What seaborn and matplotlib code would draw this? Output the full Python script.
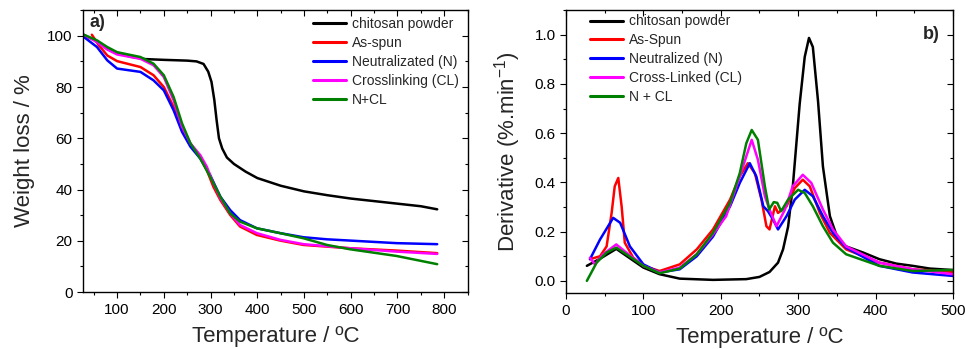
import matplotlib
matplotlib.use("Agg")
import matplotlib.pyplot as plt
import seaborn as sns
import numpy as np
import pandas as pd
from matplotlib.ticker import MultipleLocator

# ---------------- Panel a) TGA data ----------------
tga_labels = ["chitosan powder", "As-spun", "Neutralizated (N)", "Crosslinking (CL)", "N+CL"]
tga_chitosan_T = [30, 50, 80, 100, 130, 160, 200, 250, 270, 285, 295, 302, 308, 313, 318, 325, 335, 350, 375, 400, 450, 500, 550, 600, 650, 700, 750, 785]
tga_chitosan_W = [100, 98.5, 95, 93.2, 91.8, 90.9, 90.6, 90.3, 90.0, 89.0, 86.0, 82.0, 75.0, 67.0, 60.0, 56.0, 52.5, 50.0, 47.0, 44.5, 41.5, 39.3, 37.8, 36.5, 35.5, 34.5, 33.5, 32.3]
tga_asspun_T = [46, 60, 79, 100, 150, 178, 200, 221, 239, 253, 278, 292, 306, 321, 342, 363, 399, 449, 499, 599, 698, 785]
tga_asspun_W = [100.4, 96.5, 92.3, 90.1, 87.8, 84.6, 80.0, 72.2, 63.2, 58.6, 52.8, 47.6, 41.1, 35.9, 30.1, 25.6, 22.3, 20.1, 18.4, 17.1, 16.2, 15.2]
tga_neutral_T = [29, 57, 79, 100, 150, 178, 200, 221, 239, 257, 278, 299, 321, 342, 363, 399, 449, 499, 549, 599, 698, 785]
tga_neutral_W = [99.5, 95.6, 90.4, 87.2, 85.9, 82.6, 78.7, 70.9, 62.5, 56.7, 52.1, 45.7, 37.2, 32.0, 28.1, 24.9, 23.0, 21.4, 20.6, 20.1, 19.1, 18.7]
tga_cross_T = [29, 57, 79, 100, 150, 178, 200, 221, 239, 257, 278, 292, 306, 321, 342, 363, 399, 449, 499, 599, 698, 785]
tga_cross_W = [100.4, 97.5, 94.6, 92.7, 91.0, 88.5, 83.9, 74.8, 64.5, 58.0, 53.4, 48.9, 42.4, 36.6, 30.7, 26.2, 23.0, 20.4, 18.7, 17.1, 15.8, 14.9]
tga_ncl_T = [29, 57, 79, 100, 150, 178, 200, 221, 239, 257, 278, 299, 321, 342, 363, 399, 449, 499, 549, 599, 698, 785]
tga_ncl_W = [100.4, 98.2, 95.6, 93.6, 91.7, 89.1, 84.6, 76.1, 65.8, 58.0, 52.1, 45.0, 37.2, 30.7, 27.5, 24.9, 23.0, 21.0, 18.4, 16.7, 14.1, 10.9]

# ---------------- Panel b) DTG data ----------------
dtg_labels = ["chitosan powder", "As-Spun", "Neutralized (N)", "Cross-Linked (CL)", "N + CL"]
dtg_chitosan_T = [27, 44, 65, 100, 121, 147, 190, 233, 250, 263, 274, 280.5, 287, 293, 302, 308.5, 314, 319, 325.7, 332, 341, 351.5, 362, 384, 405, 427, 448, 470, 500]
dtg_chitosan_D = [0.061, 0.09, 0.13, 0.054, 0.027, 0.009, 0.004, 0.007, 0.016, 0.036, 0.074, 0.128, 0.22, 0.38, 0.72, 0.91, 0.987, 0.95, 0.73, 0.465, 0.263, 0.168, 0.14, 0.115, 0.088, 0.07, 0.061, 0.05, 0.044]
dtg_asspun_T = [31, 44, 52.5, 59, 63, 67.6, 72, 76, 87, 100, 121, 147, 169, 190, 212, 224.6, 235, 244, 252.6, 259, 263, 270, 274, 285, 295.6, 306, 315, 328, 341, 362, 405, 448, 500]
dtg_asspun_D = [0.088, 0.10, 0.14, 0.276, 0.384, 0.418, 0.30, 0.155, 0.094, 0.061, 0.04, 0.067, 0.128, 0.209, 0.33, 0.425, 0.478, 0.438, 0.33, 0.222, 0.209, 0.303, 0.276, 0.303, 0.377, 0.411, 0.384, 0.276, 0.195, 0.128, 0.074, 0.047, 0.036]
dtg_neutral_T = [31, 44, 61, 70, 82.6, 100, 121, 147, 169, 190, 212, 224.6, 237.5, 246, 255, 261, 267.6, 274, 285, 295.6, 308.5, 319, 332, 345, 362, 405, 448, 500]
dtg_neutral_D = [0.088, 0.168, 0.256, 0.236, 0.14, 0.067, 0.034, 0.047, 0.10, 0.18, 0.303, 0.398, 0.478, 0.424, 0.303, 0.283, 0.249, 0.209, 0.263, 0.33, 0.37, 0.344, 0.263, 0.195, 0.135, 0.061, 0.034, 0.02]
dtg_cross_T = [31, 37.4, 48, 65, 78, 100, 121, 147, 169, 190, 207, 224.6, 240, 248, 257, 263, 272, 283, 293, 306, 317, 332, 345, 362, 405, 448, 500]
dtg_cross_D = [0.094, 0.067, 0.108, 0.148, 0.115, 0.061, 0.034, 0.054, 0.108, 0.189, 0.263, 0.425, 0.573, 0.492, 0.344, 0.29, 0.222, 0.29, 0.384, 0.431, 0.398, 0.29, 0.209, 0.14, 0.074, 0.047, 0.027]
dtg_ncl_T = [27, 39.6, 52.5, 65, 78, 100, 121, 147, 169, 190, 212, 224.6, 233, 240, 248, 257, 262.5, 268.5, 273, 278, 287, 300, 308.5, 319, 332, 345, 362, 405, 448, 500]
dtg_ncl_D = [0.0, 0.074, 0.115, 0.135, 0.108, 0.061, 0.031, 0.05, 0.108, 0.195, 0.317, 0.438, 0.559, 0.613, 0.573, 0.384, 0.29, 0.32, 0.317, 0.283, 0.33, 0.37, 0.357, 0.303, 0.222, 0.155, 0.108, 0.061, 0.04, 0.044]

colors = ["#000000", "#ff0000", "#0000ff", "#ff00ff", "#008000"]

sns.set_theme(style="white")
plt.rcParams['font.family'] = ['Liberation Sans', 'DejaVu Sans']
plt.rcParams['mathtext.fontset'] = 'custom'
plt.rcParams['mathtext.rm'] = 'Liberation Sans'

fig = plt.figure(figsize=(9.65, 3.49), dpi=100)
ax1 = fig.add_axes([0.086, 0.163, 0.399, 0.808])
ax2 = fig.add_axes([0.5865, 0.160, 0.401, 0.811])

tga_sets = [(tga_chitosan_T, tga_chitosan_W), (tga_asspun_T, tga_asspun_W), (tga_neutral_T, tga_neutral_W),
            (tga_cross_T, tga_cross_W), (tga_ncl_T, tga_ncl_W)]
dtg_sets = [(dtg_chitosan_T, dtg_chitosan_D), (dtg_asspun_T, dtg_asspun_D), (dtg_neutral_T, dtg_neutral_D),
            (dtg_cross_T, dtg_cross_D), (dtg_ncl_T, dtg_ncl_D)]

for (t, w), lab, c in zip(tga_sets, tga_labels, colors):
    sns.lineplot(x=t, y=w, ax=ax1, color=c, label=lab, linewidth=1.8, sort=False)
for (t, d), lab, c in zip(dtg_sets, dtg_labels, colors):
    sns.lineplot(x=t, y=d, ax=ax2, color=c, label=lab, linewidth=1.8, sort=False)

ax1.set_xlim(27, 851)
ax1.set_ylim(0, 110)
ax1.xaxis.set_major_locator(MultipleLocator(100))
ax1.xaxis.set_minor_locator(MultipleLocator(50))
ax1.yaxis.set_major_locator(MultipleLocator(20))
ax1.yaxis.set_minor_locator(MultipleLocator(10))
ax1.set_xlabel("Temperature / ºC", fontsize=16, labelpad=7)
ax1.set_ylabel("Weight loss / %", fontsize=16, labelpad=9)

ax2.set_xlim(0, 500)
ax2.set_ylim(-0.05, 1.1)
ax2.xaxis.set_major_locator(MultipleLocator(100))
ax2.xaxis.set_minor_locator(MultipleLocator(50))
ax2.yaxis.set_major_locator(MultipleLocator(0.2))
ax2.yaxis.set_minor_locator(MultipleLocator(0.1))
ax2.set_yticks([0.0, 0.2, 0.4, 0.6, 0.8, 1.0])
ax2.set_yticklabels(["0.0", "0.2", "0.4", "0.6", "0.8", "1.0"])
ax2.set_xlabel("Temperature / ºC", fontsize=16, labelpad=7)
ax2.set_ylabel("Derivative (%.min$^{\\mathregular{-1}}$)", fontsize=16, labelpad=8)

for ax in (ax1, ax2):
    for sp in ax.spines.values():
        sp.set_visible(True)
        sp.set_color("black")
        sp.set_linewidth(1.0)
    ax.tick_params(axis="both", which="both", direction="out", colors="black", labelsize=11,
                   bottom=True, left=True, top=True, right=True, labeltop=False, labelright=False)
    ax.tick_params(which="major", length=4, width=0.8)
    ax.tick_params(which="minor", length=2.5, width=0.8)
    ax.grid(False)

# top/right ticks pointing inward
for ax in (ax1, ax2):
    for tk in ax.xaxis.get_major_ticks() + ax.xaxis.get_minor_ticks():
        tk.tick2line.set_marker(3)
    for tk in ax.yaxis.get_major_ticks() + ax.yaxis.get_minor_ticks():
        tk.tick2line.set_marker(0)

leg1 = ax1.legend(loc="upper left", bbox_to_anchor=(0.597, 0.975), frameon=False, fontsize=10,
                  handlelength=2.4, handletextpad=0.4, labelspacing=0.35, borderpad=0, borderaxespad=0)
leg2 = ax2.legend(loc="upper left", bbox_to_anchor=(0.062, 0.985), frameon=False, fontsize=10,
                  handlelength=2.4, handletextpad=0.4, labelspacing=0.35, borderpad=0, borderaxespad=0)
for leg in (leg1, leg2):
    for ln in leg.get_lines():
        ln.set_linewidth(2.2)

ax1.text(0.018, 0.955, "a)", transform=ax1.transAxes, fontsize=13, fontweight="bold", va="center", ha="left")
ax2.text(0.966, 0.915, "b)", transform=ax2.transAxes, fontsize=13, fontweight="bold", va="center", ha="right")

fig.savefig("out.png", dpi=100)
